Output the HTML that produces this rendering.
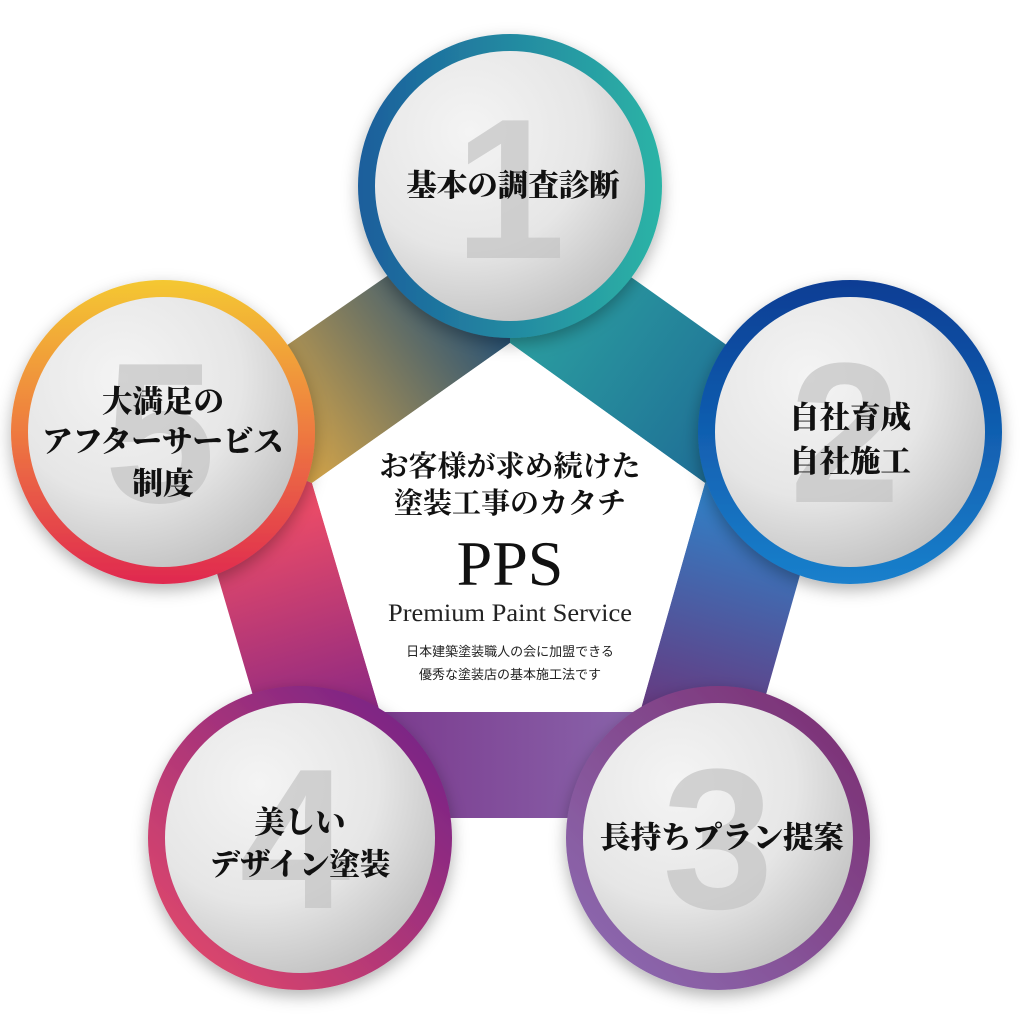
<!DOCTYPE html>
<html><head><meta charset="utf-8"><style>
html,body{margin:0;padding:0;background:#fff;width:1024px;height:1024px;overflow:hidden}
svg text{font-family:"Liberation Serif","Noto Serif CJK SC",serif}
.j{font-family:"Liberation Serif","Noto Serif CJK JP","Noto Serif CJK SC",serif;font-weight:900;fill:#111}
.n{font-family:"Liberation Sans",sans-serif;font-weight:bold;fill:#c4c4c4;opacity:.7}
</style></head><body>
<svg width="1024" height="1024" viewBox="0 0 1024 1024" xmlns="http://www.w3.org/2000/svg">
<defs>
<linearGradient id="b12" x1="510" y1="191" x2="842" y2="427" gradientUnits="userSpaceOnUse"><stop offset="0" stop-color="#2fb0a4"/><stop offset="1" stop-color="#1b5e92"/></linearGradient>
<linearGradient id="b23" x1="842" y1="427" x2="731" y2="818" gradientUnits="userSpaceOnUse"><stop offset="0.2" stop-color="#2c86cc"/><stop offset="1" stop-color="#7a1f66"/></linearGradient>
<linearGradient id="b34" x1="731" y1="818" x2="289" y2="818" gradientUnits="userSpaceOnUse"><stop offset="0.1" stop-color="#8c6cb0"/><stop offset="1" stop-color="#762c84"/></linearGradient>
<linearGradient id="b45" x1="289" y1="818" x2="173" y2="424" gradientUnits="userSpaceOnUse"><stop offset="0.1" stop-color="#7a2288"/><stop offset="0.7" stop-color="#e84a68"/><stop offset="1" stop-color="#e04a5a"/></linearGradient>
<linearGradient id="b51" x1="173" y1="424" x2="510" y2="191" gradientUnits="userSpaceOnUse"><stop offset="0.2" stop-color="#d4a448"/><stop offset="0.85" stop-color="#174a7a"/></linearGradient>
<linearGradient id="r1" x1="0" y1="0" x2="1" y2="0"><stop offset="0" stop-color="#1a5e9c"/><stop offset="1" stop-color="#2cb4a6"/></linearGradient>
<linearGradient id="r2" x1="0" y1="0" x2="0" y2="1"><stop offset="0" stop-color="#083d94"/><stop offset="1" stop-color="#1a80cc"/></linearGradient>
<linearGradient id="r3" x1="1" y1="0" x2="0" y2="1"><stop offset="0" stop-color="#7a2a6e"/><stop offset="1" stop-color="#8e70b6"/></linearGradient>
<linearGradient id="r4" x1="1" y1="0" x2="0" y2="1"><stop offset="0" stop-color="#6a1e8a"/><stop offset="1" stop-color="#ec4c68"/></linearGradient>
<linearGradient id="r5" x1="0" y1="0" x2="0" y2="1"><stop offset="0" stop-color="#f4c832"/><stop offset="0.5" stop-color="#ee7a40"/><stop offset="1" stop-color="#e02850"/></linearGradient>
<radialGradient id="in" cx="0.35" cy="0.3" r="0.8"><stop offset="0" stop-color="#f4f4f4"/><stop offset="0.55" stop-color="#e6e6e6"/><stop offset="1" stop-color="#bdbdbd"/></radialGradient>
<filter id="sh" x="-30%" y="-30%" width="160%" height="160%"><feDropShadow dx="0" dy="6" stdDeviation="8" flood-color="#000" flood-opacity="0.3"/></filter>
</defs>
<polygon points="510,191 842,427 705,483 510,343" fill="url(#b12)"/>
<polygon points="842,427 731,818 640,712 705,483" fill="url(#b23)"/>
<polygon points="731,818 289,818 380,712 640,712" fill="url(#b34)"/>
<polygon points="289,818 173,424 312,483 380,712" fill="url(#b45)"/>
<polygon points="173,424 510,191 510,343 312,483" fill="url(#b51)"/>
<polygon points="510,343 705,483 640,712 380,712 312,483" fill="#fff"/>

<g filter="url(#sh)">
<circle cx="510" cy="186" r="152" fill="url(#r1)"/><circle cx="510" cy="186" r="135" fill="url(#in)"/>
<circle cx="850" cy="432" r="152" fill="url(#r2)"/><circle cx="850" cy="432" r="135" fill="url(#in)"/>
<circle cx="718" cy="838" r="152" fill="url(#r3)"/><circle cx="718" cy="838" r="135" fill="url(#in)"/>
<circle cx="300" cy="838" r="152" fill="url(#r4)"/><circle cx="300" cy="838" r="135" fill="url(#in)"/>
<circle cx="163" cy="432" r="152" fill="url(#r5)"/><circle cx="163" cy="432" r="135" fill="url(#in)"/>
</g>
<text class="n" x="510" y="258" font-size="200" text-anchor="middle">1</text>
<text class="n" x="845" y="502" font-size="200" text-anchor="middle">2</text>
<text class="n" x="718" y="908" font-size="200" text-anchor="middle">3</text>
<text class="n" x="295" y="908" font-size="200" text-anchor="middle">4</text>
<text class="n" x="160" y="502" font-size="200" text-anchor="middle">5</text>

<text class="j" x="513" y="196" font-size="30.5" text-anchor="middle">基本の調査診断</text>
<text class="j" x="850" y="428" font-size="30.5" text-anchor="middle">自社育成</text>
<text class="j" x="850" y="472" font-size="30.5" text-anchor="middle">自社施工</text>
<text class="j" x="722" y="848" font-size="30.5" text-anchor="middle">長持ちプラン提案</text>
<text class="j" x="300" y="833" font-size="30.5" text-anchor="middle">美しい</text>
<text class="j" x="300" y="875" font-size="30.5" text-anchor="middle">デザイン塗装</text>
<text class="j" x="163" y="412" font-size="30.5" text-anchor="middle">大満足の</text>
<text class="j" x="163" y="452" font-size="30.5" text-anchor="middle">アフターサービス</text>
<text class="j" x="163" y="494" font-size="30.5" text-anchor="middle">制度</text>

<text class="j" x="510" y="476" font-size="29" text-anchor="middle" style="font-weight:700">お客様が求め続けた</text>
<text class="j" x="510" y="513" font-size="29" text-anchor="middle" style="font-weight:700">塗装工事のカタチ</text>
<text x="510" y="585" font-size="64" text-anchor="middle" fill="#111" style="font-family:'Liberation Serif',serif">PPS</text>
<text x="510" y="621" font-size="25" text-anchor="middle" fill="#222" textLength="244" lengthAdjust="spacingAndGlyphs" style="font-family:'Liberation Serif',serif">Premium Paint Service</text>
<text x="510" y="656" font-size="13" text-anchor="middle" fill="#222" style="font-family:'Liberation Sans','Noto Sans CJK JP',sans-serif">日本建築塗装職人の会に加盟できる</text>
<text x="510" y="679" font-size="13" text-anchor="middle" fill="#222" style="font-family:'Liberation Sans','Noto Sans CJK JP',sans-serif">優秀な塗装店の基本施工法です</text>
</svg>
</body></html>
